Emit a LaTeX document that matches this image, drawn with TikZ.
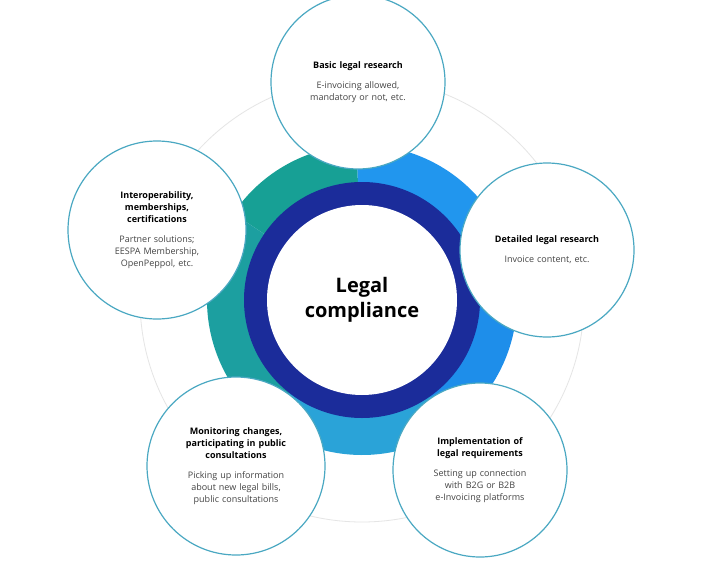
\documentclass[tikz,border=0pt]{standalone}
\usepackage{fontspec}
\setmainfont{Open Sans}
\newcommand\hdr{\bfseries}
\begin{document}
\begin{tikzpicture}[x=1pt,y=-1pt,
  sat/.style={circle,draw=satb,line width=1.2pt,fill=white,minimum size=174pt,inner sep=0pt,align=center,font=\fontsize{9}{12}\selectfont,text width=125pt}]
\definecolor{satb}{HTML}{4AA8C2}
\definecolor{navy}{HTML}{1B2C9A}
\definecolor{tealA}{HTML}{17A095}
\definecolor{tealB}{HTML}{1C9FA0}
\definecolor{lblue}{HTML}{2AA3D8}
\definecolor{bblue}{HTML}{1E8EEA}
\definecolor{cblue}{HTML}{2196EE}
\definecolor{txt}{HTML}{444444}
\useasboundingbox (0,0) rectangle (720,562);
\fill[white] (0,0) rectangle (720,562);
\coordinate (c) at (362,300);
\draw[gray!20,line width=0.8pt] (c) circle[radius=222];
\foreach \a/\b/\col in {92/146/tealA,146/232/tealB,232/305/lblue,305/375/bblue,375/452/cblue}{
  \fill[\col] ([shift={(-\a:155)}]c) arc[start angle=-\a,end angle=-\b,radius=155]
    -- ([shift={(-\b:110)}]c) arc[start angle=-\b,end angle=-\a,radius=110] -- cycle;}
\fill[navy] (c) circle[radius=118];
\node[circle,fill=white,minimum size=190pt,inner sep=0pt,align=center,font=\bfseries\fontsize{20}{25}\selectfont] (center) at (c) {Legal\\compliance};
\node[sat] (top) at (358,82) {{\hdr Basic legal research}\\[8pt]{\color{txt}E-invoicing allowed,\\mandatory or not, etc.}};
\node[sat] (right) at (547,250) {{\hdr Detailed legal research}\\[8pt]{\color{txt}Invoice content, etc.}};
\node[sat] (br) at (480,470) {{\hdr Implementation of\\legal requirements}\\[8pt]{\color{txt}Setting up connection\\with B2G or B2B\\e-Invoicing platforms}};
\node[sat,minimum size=178pt] (bl) at (236,466) {{\hdr Monitoring changes,\\participating in public\\consultations}\\[8pt]{\color{txt}Picking up information\\about new legal bills,\\public consultations}};
\node[sat,minimum size=178pt] (left) at (157,230) {{\hdr Interoperability,\\memberships,\\certifications}\\[8pt]{\color{txt}Partner solutions;\\EESPA Membership,\\OpenPeppol, etc.}};
\end{tikzpicture}
\end{document}
